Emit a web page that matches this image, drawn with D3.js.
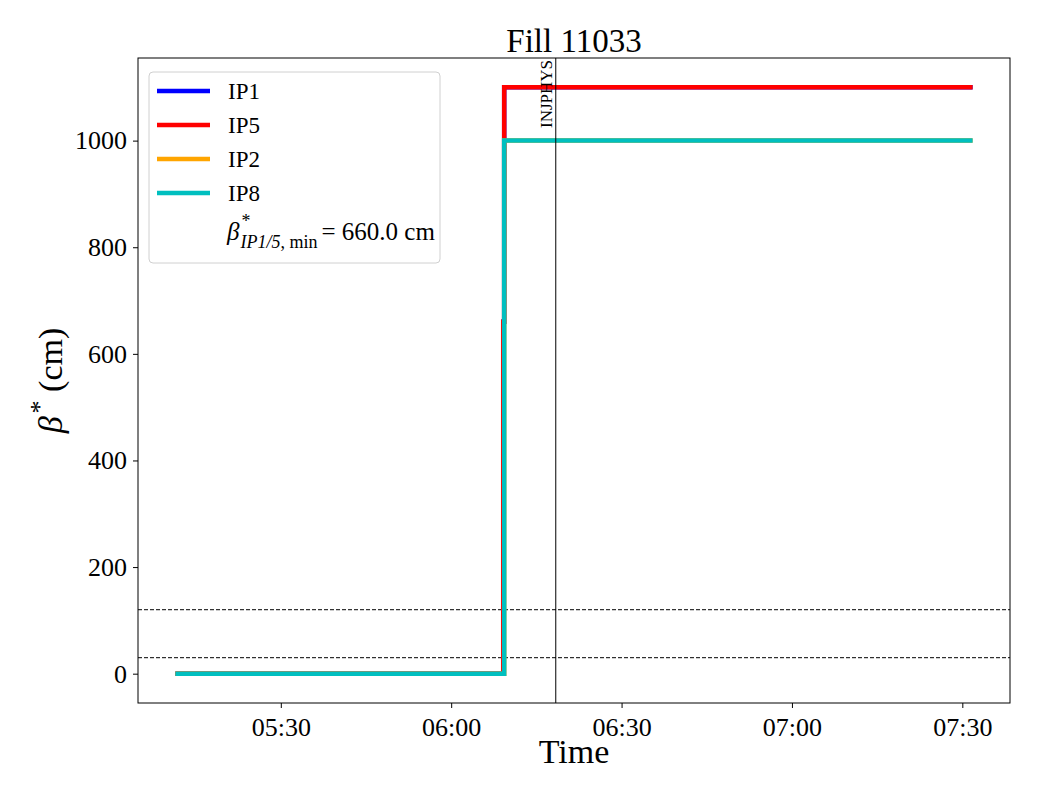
<!DOCTYPE html>
<html>
<head>
<meta charset="utf-8">
<script src="https://cdn.jsdelivr.net/npm/d3@7"></script>
<style>
  body { margin: 0; background: #fff; }
  text { font-family: "Liberation Serif", "DejaVu Serif", serif; }
</style>
</head>
<body>
<script>
// Data (times as HH:MM:SS on the fill day)
const seriesNames = ['IP1', 'IP5', 'IP2', 'IP8'];
const seriesColors = ['#0000ff', '#ff0000', '#ffa500', '#00bfbf'];
const times15 = ['05:11:50', '06:09:10', '06:09:20', '07:31:25'];
const ip1Values = [0, 660, 1100, 1100];
const ip5Values = [0, 660, 1100, 1100];
const times28 = ['05:11:50', '06:09:20', '07:31:25'];
const ip2Values = [0, 1000, 1000];
const ip8Values = [0, 1000, 1000];
const refLines = [120, 30];
const markerTime = '06:18:25';
const markerLabel = 'INJPHYS';
const xTicks = ['05:30', '06:00', '06:30', '07:00', '07:30'];
const yTicks = [0, 200, 400, 600, 800, 1000];
const betaMin = '660.0';

const parse = d3.timeParse('%H:%M:%S');
const toPts = (ts, vs) => ts.map((t, i) => ({ t: parse(t), v: vs[i] }));
const series = [
  toPts(times15, ip1Values),
  toPts(times15, ip5Values),
  toPts(times28, ip2Values),
  toPts(times28, ip8Values)
];

const width = 1040, height = 800;
const margin = { left: 138, right: 30, top: 58, bottom: 97 };
const iw = width - margin.left - margin.right;
const ih = height - margin.top - margin.bottom;

const svg = d3.select('body').append('svg')
  .attr('width', width).attr('height', height);

// Scales with matplotlib-like 5% padding
const allT = series.flat().map(d => d.t);
const [t0, t1] = d3.extent(allT);
const pad = (t1 - t0) * 0.05;
const x = d3.scaleTime()
  .domain([new Date(+t0 - pad), new Date(+t1 + pad)])
  .range([0, iw]);
const y = d3.scaleLinear()
  .domain([-55, 1155])
  .range([ih, 0]);

const g = svg.append('g').attr('transform', `translate(${margin.left},${margin.top})`);

// Reference dashed lines
g.selectAll('.ref').data(refLines).enter().append('line')
  .attr('x1', 0).attr('x2', iw)
  .attr('y1', d => y(d)).attr('y2', d => y(d))
  .attr('stroke', '#000').attr('stroke-width', 1)
  .attr('stroke-dasharray', '4,2');

// Step lines
const line = d3.line()
  .x(d => x(d.t)).y(d => y(d.v))
  .curve(d3.curveStepAfter);

series.forEach((s, i) => {
  g.append('path').datum(s)
    .attr('d', line)
    .attr('fill', 'none')
    .attr('stroke', seriesColors[i])
    .attr('stroke-width', 4.5)
    .attr('stroke-linecap', 'square');
});

// Marker line
const mx = x(parse(markerTime));
g.append('line')
  .attr('x1', mx).attr('x2', mx).attr('y1', 0).attr('y2', ih)
  .attr('stroke', '#000').attr('stroke-width', 1);
g.append('text')
  .attr('transform', `translate(${mx - 4},2) rotate(-90)`)
  .attr('text-anchor', 'end')
  .attr('font-size', 17)
  .text(markerLabel);

// Axes
const xAxis = d3.axisBottom(x)
  .tickValues(xTicks.map(t => parse(t + ':00')))
  .tickFormat(d3.timeFormat('%H:%M'))
  .tickSize(5).tickPadding(6);
const xg = g.append('g').attr('transform', `translate(0,${ih})`).call(xAxis);
const yAxis = d3.axisLeft(y).tickValues(yTicks).tickFormat(d3.format('d'))
  .tickSize(5).tickPadding(6);
const yg = g.append('g').call(yAxis);
[xg, yg].forEach(a => {
  a.select('.domain').remove();
  a.selectAll('text').attr('font-size', 26).attr('fill', '#000');
  a.selectAll('line').attr('stroke', '#000');
});
xg.selectAll('text').attr('dy', '0.85em');

// Frame
g.append('rect').attr('width', iw).attr('height', ih)
  .attr('fill', 'none').attr('stroke', '#000').attr('stroke-width', 1);

// Title and labels
svg.append('text')
  .attr('x', margin.left + iw / 2).attr('y', 52)
  .attr('text-anchor', 'middle').attr('font-size', 33)
  .text('Fill 11033');
svg.append('text')
  .attr('x', margin.left + iw / 2).attr('y', 763)
  .attr('text-anchor', 'middle').attr('font-size', 34)
  .text('Time');
const yl = svg.append('text')
  .attr('transform', `translate(62,${margin.top + ih / 2}) rotate(-90)`)
  .attr('text-anchor', 'middle').attr('font-size', 34);
yl.append('tspan').attr('font-style', 'italic').text('β');
yl.append('tspan').attr('dy', -14).attr('dx', 3).attr('font-size', 26).text('*');
yl.append('tspan').attr('dy', 14).text(' (cm)');

// Legend
const lg = svg.append('g').attr('transform', 'translate(149,72)');
lg.append('rect').attr('width', 291).attr('height', 191).attr('rx', 4)
  .attr('fill', '#fff').attr('fill-opacity', 0.8)
  .attr('stroke', '#d0d0d0').attr('stroke-width', 1);
seriesNames.forEach((n, i) => {
  const yy = 19 + i * 34;
  lg.append('line').attr('x1', 8).attr('x2', 61).attr('y1', yy).attr('y2', yy)
    .attr('stroke', seriesColors[i]).attr('stroke-width', 4.5);
  lg.append('text').attr('x', 79).attr('y', yy + 8).attr('font-size', 23).text(n);
});
const bt = lg.append('text').attr('x', 78).attr('y', 168).attr('font-size', 25);
bt.append('tspan').attr('font-style', 'italic').text('β');
bt.append('tspan').attr('dy', -13).attr('dx', 2).attr('font-size', 18).text('*');
bt.append('tspan').attr('dy', 21).attr('dx', -10).attr('font-size', 18).attr('font-style', 'italic').text('IP1/5');
bt.append('tspan').attr('font-size', 18).text(', min');
bt.append('tspan').attr('dy', -8).attr('dx', 4).text('= ' + betaMin + ' cm');
</script>
</body>
</html>
